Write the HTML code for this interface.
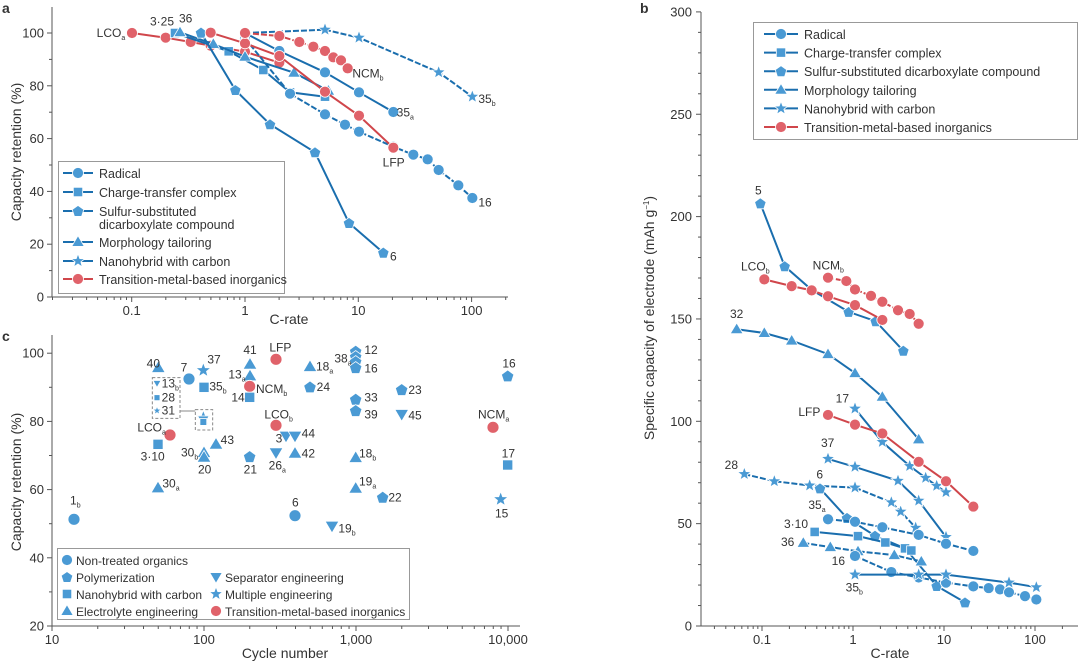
<!DOCTYPE html>
<html><head><meta charset="utf-8">
<style>
html,body{margin:0;padding:0;background:#fff;}
svg{display:block;font-family:"Liberation Sans","DejaVu Sans",sans-serif;}
</style></head>
<body>
<svg id="s" width="1080" height="662" xmlns="http://www.w3.org/2000/svg"></svg>
<script>
const S=document.getElementById('s');let H='';
const BL='#1a6eae',BM='#4a9ad4',RL='#d0464b',RM='#e0626a',TX='#333';
const A=(x,y)=>[x/3,y/3],C=(x,y)=>[x/3,330+y/3],B=(x,y)=>[620+x/3,y*0.4223-0.6];
function mk(t,x,y,col,r){r=r||5.5;col=col||BM;let st=`fill="${col}" stroke="#fff" stroke-width="0.8"`;
 if(t=='c')return `<circle cx="${x}" cy="${y}" r="${r}" ${st}/>`;
 if(t=='s')return `<rect x="${x-r*0.85}" y="${y-r*0.85}" width="${r*1.7}" height="${r*1.7}" ${st}/>`;
 let pts=[];
 if(t=='p'){for(let i=0;i<5;i++){let a=-Math.PI/2+i*2*Math.PI/5;pts.push([x+r*1.1*Math.cos(a),y+r*1.1*Math.sin(a)+0.5]);}}
 if(t=='t'){pts=[[x,y-r*1.15],[x+r*1.15,y+r*0.8],[x-r*1.15,y+r*0.8]];}
 if(t=='v'){pts=[[x,y+r*1.15],[x+r*1.15,y-r*0.8],[x-r*1.15,y-r*0.8]];}
 if(t=='*'){for(let i=0;i<10;i++){let a=-Math.PI/2+i*Math.PI/5,rr=i%2?r*0.55:r*1.3;pts.push([x+rr*Math.cos(a),y+rr*Math.sin(a)]);}}
 return `<polygon points="${pts.map(p=>p[0].toFixed(1)+','+p[1].toFixed(1)).join(' ')}" ${st}/>`;}
function ser(f,t,arr,red,dash){let P=[];for(let i=0;i<arr.length;i+=2)P.push(f(arr[i],arr[i+1]));
 H+=`<polyline points="${P.map(p=>p[0].toFixed(1)+','+p[1].toFixed(1)).join(' ')}" fill="none" stroke="${red?RL:BL}" stroke-width="2" ${dash?'stroke-dasharray="6,2"':''}/>`;
 P.forEach(p=>H+=mk(t,p[0],p[1],red?RM:BM));}
function tx(x,y,s,o){o=o||{};H+=`<text x="${x}" y="${y}" font-size="${o.fs||12}" fill="${TX}" text-anchor="${o.a||'start'}" ${o.w?'font-weight="bold"':''} ${o.tr?'transform="'+o.tr+'"':''}>${s}</text>`;}
function lab(f,zx,zy,s,sub,fs){let p=f(zx,zy);H+=`<text x="${p[0]}" y="${p[1]+4}" font-size="${fs||12}" fill="${TX}">${s}${sub?'<tspan font-size="7" dy="3">'+sub+'</tspan>':''}</text>`;}
function line(x1,y1,x2,y2,w,c){H+=`<line x1="${x1}" y1="${y1}" x2="${x2}" y2="${y2}" stroke="${c||'#555'}" stroke-width="${w||1}"/>`;}
function logx(x0,x1,yax,ref,dec,lo,hi,labels){line(x0,yax,x1,yax);
 for(let e=lo;e<=hi;e++)for(let m=1;m<10;m++){let v=Math.log10(m)+e,px=ref+dec*v;if(px<x0-0.5||px>x1)continue;line(px,yax,px,yax+(m==1?5:3));}
 labels.forEach(l=>tx(ref+dec*l[0],yax+18,l[1],{a:'middle',fs:13}));}
function liny(xax,y0,top,k,vmin,vmax,step,minor,lx){line(xax,top,xax,y0);
 for(let v=vmin;v<=vmax;v+=minor){let py=y0-k*(v-vmin);line(xax-((v-vmin)%step==0?5:3),py,xax,py);if((v-vmin)%step==0)tx(lx,py+4.5,v,{a:'end',fs:13});}}
// ---------- panel a
logx(52,508,297,245,113.3,-2,2,[[-1,'0.1'],[0,'1'],[1,'10'],[2,'100']]);
liny(52,297,7,2.64,0,100,20,10,44);
tx(289,324,'C-rate',{a:'middle',fs:14});
tx(0,0,'Capacity retention (%)',{a:'middle',fs:14,tr:'translate(21,152) rotate(-90)'});
tx(2,13,'a',{w:1,fs:14});
ser(A,'c',[396,99,497,113,572,126,632,137,735,155,838,188],1);
ser(A,'s',[525,99,686,154,790,210,870,277,975,290]);
ser(A,'t',[540,97,640,132,735,170,882,218,985,272]);
ser(A,'p',[603,98,706,270,810,373,945,457,1047,669,1150,758]);
ser(A,'c',[735,115,870,281,975,343,1035,374,1077,395,1180,440,1240,464,1283,478,1316,510,1375,556,1417,594],0,1);
ser(A,'c',[735,99,838,153,975,217,1077,277,1180,336]);
ser(A,'*',[735,99,975,89,1077,113,1316,217,1417,290],0,1);
ser(A,'c',[632,98,735,130,838,168,975,275,1077,347,1180,443],1);
ser(A,'c',[735,99,838,108,898,126,940,140,975,153,1000,172,1023,181,1043,205],1,1);
lab(A,290,99,'LCO','a');lab(A,450,65,'3·25');lab(A,537,55,'36');lab(A,1057,220,'NCM','b');
lab(A,1435,297,'35','b');lab(A,1190,338,'35','a');lab(A,1148,487,'LFP');lab(A,1435,607,'16');lab(A,1170,770,'6');
H+=`<rect x="58.5" y="161.5" width="226" height="132" fill="#fff" stroke="#999"/>`;
[['c','Radical',173],['s','Charge-transfer complex',192],['p','Sulfur-substituted',211],['t','Morphology tailoring',242],['*','Nanohybrid with carbon',261],['c','Transition-metal-based inorganics',279]].forEach((e,i)=>{
 let red=i==5;line(63,e[2],93,e[2],2,red?RL:BL);H+=mk(e[0],78,e[2],red?RM:BM);tx(99,e[2]+5,e[1],{fs:12.5});});
tx(99,229,'dicarboxylate compound',{fs:12.5});
// ---------- panel c
logx(52,520,626,52-152,152,1,4,[[1,'10'],[2,'100'],[3,'1,000'],[4,'10,000']]);
liny(52,626,335,3.41,20,100,20,10,44);
tx(285,658,'Cycle number',{a:'middle',fs:14});
tx(0,0,'Capacity retention (%)',{a:'middle',fs:14,tr:'translate(21,482) rotate(-90)'});
tx(2,341,'c',{w:1,fs:14});
const pc=[['c',222,568,'1','b',210,512],['t',475,113,'40','',440,100],['c',567,147,'7','',542,112],['*',610,121,'37','',622,88],
['s',612,172,'35','b',628,170],['c',510,315,'LCO','a',412,292,1],['s',474,343,'3·10','',422,380],['t',612,368,'30','b',543,368],['t',612,382,'20','',594,418],
['t',648,343,'43','',662,330],['t',474,474,'30','a',487,461],['t',750,103,'41','',730,60],['t',750,138,'13','a',685,133],['c',749,169,'NCM','b',768,177,1],
['s',749,202,'14','',694,202],['p',749,380,'21','',731,418],['c',828,88,'LFP','',808,52,1],['c',828,286,'LCO','b',793,253,1],['v',828,368,'26','a',806,406],
['v',858,318,'3','',827,325],['v',885,318,'44','',905,310],['t',885,370,'42','',905,370],['c',885,557,'6','',876,517],['v',996,588,'19','b',1015,596],
['t',930,110,'18','a',948,110],['p',930,171,'24','',950,171],['p',1067,64,'12','',1093,60],['p',1067,80,'','',0,0],['p',1067,95,'38','a',1003,86],['p',1067,113,'16','',1093,115],
['p',1067,208,'33','',1093,203],['p',1067,242,'39','',1093,253],['t',1067,383,'18','b',1077,370],['t',1067,475,'19','a',1077,455],['p',1148,502,'22','',1165,502],
['p',1205,179,'23','',1225,180],['v',1205,253,'45','',1225,257],['c',1479,292,'NCM','a',1434,253,1],['p',1523,138,'16','',1507,101],['s',1523,405,'17','',1505,370],['*',1502,508,'15','',1485,551]];
pc.forEach(d=>{let p=C(d[1],d[2]);H+=mk(d[0],p[0],p[1],d[7]?RM:BM,6);if(d[3])lab(C,d[5],d[6],d[3],d[4]);});
let b1=C(457,143),b2=C(540,265),b3=C(586,239),b4=C(638,300);
H+=`<rect x="${b1[0]}" y="${b1[1]}" width="${b2[0]-b1[0]}" height="${b2[1]-b1[1]}" fill="none" stroke="#888" stroke-dasharray="3,2"/>`;
H+=`<rect x="${b3[0]}" y="${b3[1]}" width="${b4[0]-b3[0]}" height="${b4[1]-b3[1]}" fill="none" stroke="#888" stroke-dasharray="3,2"/>`;
let q=C(540,243);line(q[0],q[1],b3[0],q[1],1,'#888');
[['v',160,'13','b'],['s',203,'28',''],['*',242,'31','']].forEach(d=>{let p=C(471,d[1]);H+=mk(d[0],p[0],p[1],BM,3.5);lab(C,485,d[1],d[2],d[3]);});
let pz=C(610,270);H+=mk('*',pz[0],pz[1]-2,BM,6)+mk('v',pz[0],pz[1],BM,5)+mk('s',pz[0],pz[1]+2,BM,4);
H+=`<rect x="57.5" y="548.5" width="352" height="71" fill="#fff" stroke="#999"/>`;
[['c','Non-treated organics',560,67],['p','Polymerization',577,67],['s','Nanohybrid with carbon',594,67],['t','Electrolyte engineering',611,67],
 ['v','Separator engineering',577,216],['*','Multiple engineering',594,216],['c','Transition-metal-based inorganics',611,216,1]].forEach(e=>{
 H+=mk(e[0],e[3],e[2],e[4]?RM:BM,5.5);tx(e[3]+9,e[2]+5,e[1],{fs:12});});
// ---------- panel b
logx(701,1078,626,853,91,-2,2,[[-1,'0.1'],[0,'1'],[1,'10'],[2,'100']]);
liny(701,626,12,2.047,0,300,50,10,692);
tx(890,658,'C-rate',{a:'middle',fs:14});
H+=`<text transform="translate(654,318) rotate(-90)" text-anchor="middle" font-size="14" fill="${TX}">Specific capacity of electrode (mAh g<tspan font-size="8" dy="-5">−1</tspan><tspan dy="5">)</tspan></text>`;
tx(640,13,'b',{w:1,fs:14});
ser(B,'p',[421,483,494,632,575,688,686,740,767,762,850,832]);
ser(B,'c',[433,663,515,679,575,689,624,703,705,724,787,759],1);
ser(B,'c',[624,659,679,667,705,687,753,702,787,716,834,736,869,745,896,768],1,1);
ser(B,'t',[350,781,433,790,515,808,624,840,705,885,787,941,896,1042]);
ser(B,'*',[705,969,787,1048,869,1105,917,1133,950,1152,978,1167]);
ser(B,'c',[624,984,705,1007,787,1028,896,1095,978,1141,1060,1201],1);
ser(B,'*',[624,1088,705,1107,834,1140,896,1187,978,1273]);
ser(B,'*',[373,1124,463,1141,569,1151,705,1156,814,1191,842,1213,887,1251],0,1);
ser(B,'p',[600,1158,681,1228,765,1270,856,1300,950,1389,1035,1428]);
ser(B,'c',[624,1231,705,1237,787,1250,896,1268,978,1289,1060,1306],0,1);
ser(B,'s',[584,1261,714,1271,796,1286,855,1300,874,1305]);
ser(B,'t',[550,1287,631,1297,714,1307,823,1316,904,1331],0,1);
ser(B,'c',[705,1318,814,1356,896,1369,978,1381,1060,1390,1106,1394,1140,1397,1167,1404,1215,1413,1249,1421],0,1);
ser(B,'*',[705,1362,896,1362,978,1362,1167,1381,1249,1392]);
lab(B,405,452,'5');lab(B,363,633,'LCO','b');lab(B,578,630,'NCM','b');lab(B,330,745,'32');lab(B,647,945,'17');
lab(B,535,977,'LFP');lab(B,603,1050,'37');lab(B,314,1102,'28');lab(B,589,1125,'6');lab(B,565,1197,'35','a');
lab(B,492,1242,'3·10');lab(B,483,1285,'36');lab(B,635,1330,'16');lab(B,677,1393,'35','b');
H+=`<rect x="753.5" y="22.5" width="324" height="117" fill="#fff" stroke="#999"/>`;
[['c','Radical'],['s','Charge-transfer complex'],['p','Sulfur-substituted dicarboxylate compound'],['t','Morphology tailoring'],['*','Nanohybrid with carbon'],['c','Transition-metal-based inorganics']].forEach((e,i)=>{
 let y=34+i*18.6,red=i==5;line(764,y,798,y,2,red?RL:BL);H+=mk(e[0],781,y,red?RM:BM);tx(804,y+5,e[1],{fs:12.5});});
S.innerHTML=H;
</script>
</body></html>
